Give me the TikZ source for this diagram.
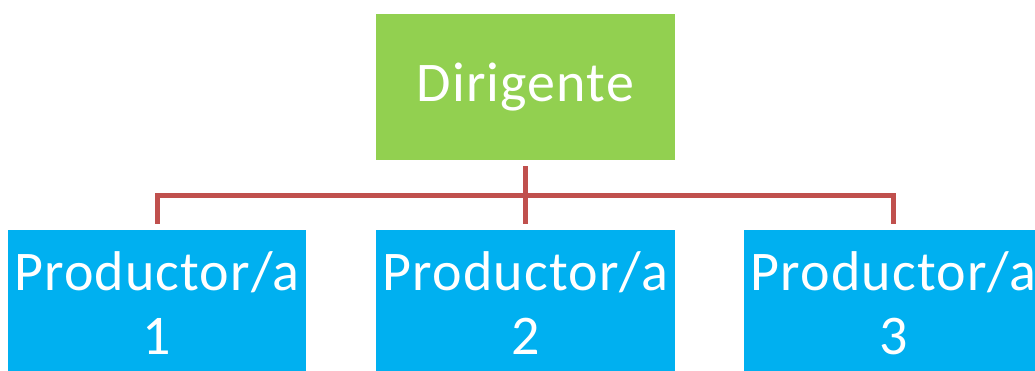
\documentclass[tikz,border=0pt]{standalone}
\usepackage{fontspec}
\setmainfont{Carlito}[LetterSpace=2.0]
\definecolor{boxgreen}{HTML}{92D050}
\definecolor{boxblue}{HTML}{00B0F0}
\definecolor{connred}{HTML}{C0504D}
\begin{document}
\begin{tikzpicture}[x=1pt,y=-1pt,
  box/.style={minimum width=299pt, minimum height=146pt, inner sep=0pt, text=white,
    font=\fontsize{56}{64}\selectfont, align=center},
  conn/.style={draw=connred, line width=5pt}]
\useasboundingbox (0,0) rectangle (1035,370);
\clip (0,0) rectangle (1035,370);
\fill[white] (0,0) rectangle (1035,370);
\node[box, fill=boxgreen] (d) at (525.5,87) {Dirigente};
\node[box, fill=boxblue, minimum width=298pt] (p1) at (157,303) {Productor/a\\1};
\node[box, fill=boxblue] (p2) at (525.5,303) {Productor/a\\2};
\node[box, fill=boxblue] (p3) at (893.5,303) {Productor/a\\3};
\coordinate (j) at (525.5,195);
\draw[conn] ([yshift=-6pt]d.south) -- ([yshift=6pt]p2.north);
\draw[conn] ([yshift=6pt]p1.north) |- (j) -| ([yshift=6pt]p3.north);
\end{tikzpicture}
\end{document}
